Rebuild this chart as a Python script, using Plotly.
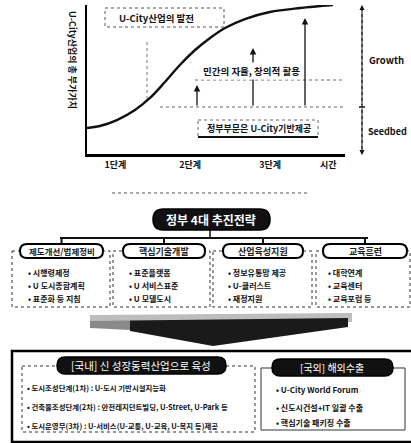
import plotly.graph_objects as go

# ---- top chart: U-City industry value over development stages ----
stage_labels = ["1단계", "2단계", "3단계", "시간"]
stage_pos = [0.11, 0.40, 0.71, 0.935]

curve_t = [0.0, 0.05, 0.116, 0.186, 0.244, 0.302, 0.36, 0.419, 0.477, 0.535, 0.612, 0.709, 0.826, 0.953]
curve_value = [0.174, 0.188, 0.228, 0.295, 0.376, 0.483, 0.597, 0.698, 0.779, 0.846, 0.906, 0.953, 0.98, 1.0]

# ---- strategy tree ----
strategy_title = "정부 4대 추진전략"
strategies = ["제도개선/법제정비", "핵심기술개발", "산업육성지원", "교육훈련"]
strategy_items = [
    ["• 시행령제정", "• U 도시종합계획", "• 표준화 등 지침"],
    ["• 표준플랫폼", "• U 서비스표준", "• U 모델도시"],
    ["• 정보유통망 제공", "• U-클러스트", "• 재정지원"],
    ["• 대학연계", "• 교육센터", "• 교육포럼 등"],
]

domestic_title = "[국내] 신 성장동력산업으로 육성"
domestic_items = [
    "• 도시조성단계(1차) : U-도시 기반시설지능화",
    "• 건축물조성단계(2차) : 안전레지던트빌딩, U-Street, U-Park 등",
    "• 도시운영부(3차) : U-서비스(U-교통, U-교육, U-복지 등)제공",
]
overseas_title = "[국외] 해외수출"
overseas_items = [
    "• U-City World Forum",
    "• 신도시건설+IT 일괄 수출",
    "• 핵심기술 패키징 수출",
]

W, H = 411, 443
FONT = "Noto Sans CJK KR"

fig = go.Figure()

fig.add_trace(go.Scatter(
    x=curve_t, y=curve_value, mode="lines",
    line=dict(color="#111", width=2.4, shape="spline", smoothing=1.0),
    hoverinfo="skip", showlegend=False, xaxis="x", yaxis="y"))

# invisible trace so the pixel overlay axes exist
fig.add_trace(go.Scatter(x=[0], y=[0], mode="markers", marker=dict(opacity=0),
                         hoverinfo="skip", showlegend=False, xaxis="x2", yaxis="y2"))

shapes = []
ann = []


def pill(x0, y0, x1, y1, fill, line="#000", lw=1.5):
    r = (y1 - y0) / 2
    path = (f"M {x0 + r},{y0} L {x1 - r},{y0} Q {x1},{y0} {x1},{y0 + r} "
            f"Q {x1},{y1} {x1 - r},{y1} L {x0 + r},{y1} Q {x0},{y1} {x0},{y0 + r} "
            f"Q {x0},{y0} {x0 + r},{y0} Z")
    shapes.append(dict(type="path", path=path, xref="x2", yref="y2",
                       fillcolor=fill, line=dict(color=line, width=lw)))


def rect(x0, y0, x1, y1, dash="dot", lw=1, color="#333", fill="rgba(0,0,0,0)"):
    shapes.append(dict(type="rect", x0=x0, y0=y0, x1=x1, y1=y1, xref="x2", yref="y2",
                       line=dict(color=color, width=lw, dash=dash), fillcolor=fill))


def line(x0, y0, x1, y1, dash="solid", lw=1.5, color="#111"):
    shapes.append(dict(type="line", x0=x0, y0=y0, x1=x1, y1=y1, xref="x2", yref="y2",
                       line=dict(color=color, width=lw, dash=dash)))


def text(x, y, s, size=9, color="#111", anchor="center", bold=True, **kw):
    ann.append(dict(x=x, y=y, xref="x2", yref="y2", text=f"<b>{s}</b>" if bold else s,
                    showarrow=False, xanchor=anchor, yanchor="middle",
                    font=dict(family=FONT, size=size, color=color), **kw))


def arrow(x, y_tail, y_head, lw=1.3):
    ann.append(dict(x=x, y=y_head, ax=x, ay=y_tail, xref="x2", yref="y2",
                    axref="x2", ayref="y2", text="", showarrow=True,
                    arrowhead=2, arrowsize=1, arrowwidth=lw, arrowcolor="#111"))


# ---- top chart decorations ----
rect(105, 8, 224, 27, dash="dot", lw=1, color="#555")
text(156, 18, "U-City산업의 발전", size=9.5)
line(147, 42, 147, 100, dash="dot", lw=1, color="#777")
line(195, 80, 345, 80, dash="dot", lw=1, color="#666")
line(160, 107, 345, 107, dash="dot", lw=1, color="#666")
arrow(197, 107, 85)
arrow(253, 107, 48)
arrow(305, 107, 18)
text(251, 71, "민간의 자율, 창의적 활용", size=9.5, bgcolor="white")
rect(198, 120, 318, 137, dash="dot", lw=1, color="#666")
line(198, 137, 318, 137, lw=2)
text(259, 128, "정부부문은 U-City기반제공", size=9)

# Growth / Seedbed scale
line(362, 8, 362, 152, dash="dot", lw=1.2, color="#333")
arrow(362, 107, 5, lw=1)
arrow(362, 107, 155, lw=1)
line(359, 107, 365, 107, lw=1.5)
text(367, 60, "Growth", size=9.5, anchor="left")
text(366, 131, "Seedbed", size=9, anchor="left")

# y title
ann.append(dict(x=73, y=60, xref="x2", yref="y2", text="<b>U-City산업의 총 부가가치</b>",
                showarrow=False, textangle=90, xanchor="center", yanchor="middle",
                font=dict(family=FONT, size=9, color="#111")))

# separator
line(112, 193, 310, 193, dash="dot", lw=1.2, color="#555")

# ---- strategy tree ----
pill(153, 209, 270, 230, "#111", lw=1.5)
text(211, 219.5, strategy_title, size=12, color="white")
line(210, 230, 210, 238)
line(60, 238, 368, 238, lw=2)

pill_x = [(20, 103), (123, 205), (223, 303), (323, 407)]
box_x = [(12, 110), (113, 210), (213, 312), (316, 410)]
item_x = [26, 127, 226, 326]
item_y = [272, 285, 298]
for i, name in enumerate(strategies):
    bx0, bx1 = box_x[i]
    rect(bx0, 251, bx1, 307, dash="dot", lw=1, color="#333")
    cx = (pill_x[i][0] + pill_x[i][1]) / 2
    line(cx, 238, cx, 244, lw=2)
    pill(pill_x[i][0], 244, pill_x[i][1], 258, "white", lw=2)
    text(cx, 251, name, size=9 if i else 8.5, color="#222")
    for j, it in enumerate(strategy_items[i]):
        text(item_x[i], item_y[j], it, size=8, anchor="left")

# big downward arrow, shaded light-to-dark from the left
shapes.append(dict(type="path", xref="x2", yref="y2",
                   path="M 90,315 L 352,313 L 352,322 L 90,323 Z",
                   fillcolor="#bdbdbd", line=dict(width=0)))
shapes.append(dict(type="path", xref="x2", yref="y2",
                   path="M 90,321 L 130,320.5 L 130,330 L 90,328 Z",
                   fillcolor="#8a8a8a", line=dict(width=0)))
shapes.append(dict(type="path", xref="x2", yref="y2",
                   path="M 130,320.5 L 348,318 L 348,327 L 213,346 L 130,331 Z",
                   fillcolor="#1a1a1a", line=dict(width=0)))

# ---- bottom outcome panel ----
rect(12, 351, 413, 442, dash="solid", lw=2.5, color="#000")
rect(22, 366, 255, 432, dash="dot", lw=1, color="#333")
pill(57, 357, 226, 374, "#111", lw=1.5)
text(141, 365.5, domestic_title, size=10.5, color="white", bold=False)
for j, it in enumerate(domestic_items):
    text(25, [387, 406, 425][j], it, size=7.4, anchor="left")

rect(261, 368, 405, 430, dash="solid", lw=1, color="#333")
pill(272, 359, 393, 376, "#111", lw=1.5)
text(332, 367.5, overseas_title, size=10, color="white", bold=False)
for j, it in enumerate(overseas_items):
    text(274, [389, 407, 422][j], it, size=8, anchor="left")

x0p, x1p = 87 / W, 345 / W
fig.update_layout(
    width=W, height=H, margin=dict(l=0, r=0, t=0, b=0),
    paper_bgcolor="white", plot_bgcolor="rgba(0,0,0,0)",
    showlegend=False,
    xaxis=dict(domain=[x0p, x1p], range=[0, 1], showgrid=False, zeroline=False,
               showline=True, linecolor="#000", linewidth=3,
               tickmode="array", tickvals=stage_pos, ticktext=[f"<b>{s}</b>" for s in stage_labels],
               ticks="", tickfont=dict(family=FONT, size=9, color="#111")),
    yaxis=dict(domain=[1 - 154 / H, 1 - 5 / H], range=[0, 1], showgrid=False, zeroline=False,
               showline=True, linecolor="#000", linewidth=2, showticklabels=False, ticks=""),
    xaxis2=dict(domain=[0, 1], range=[0, W], visible=False, anchor="y2"),
    yaxis2=dict(domain=[0, 1], range=[H, 0], visible=False, anchor="x2"),
    shapes=shapes, annotations=ann,
)

fig.write_html("out.html")
